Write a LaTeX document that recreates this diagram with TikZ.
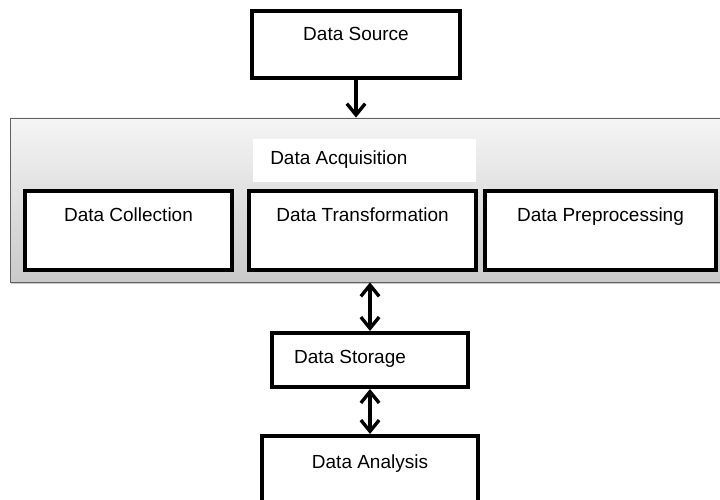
\documentclass[tikz,border=0pt]{standalone}
\usepackage{fontspec}
\setmainfont{Liberation Sans}
\usetikzlibrary{arrows.meta}
\usetikzlibrary{positioning}
\usetikzlibrary{shadows}
\tikzset{>={Straight Barb[length=8pt,width=13pt,line width=2.4pt]}}
\def\px{0.025cm}
\tikzset{
    blk/.style={draw=black, line width=4*\px, fill=white, rectangle, inner sep=0pt},
    lbl/.style={anchor=north, inner sep=0pt, font=\fontsize{13.5}{16}\selectfont},
    flow/.style={line width=3.5*\px}
}

\begin{document}
\begin{tikzpicture}[x=\px, y=\px]
            \clip (0,0) rectangle (720,499);
            \useasboundingbox (0,0) rectangle (720,499);
            % outer acquisition panel
            \node [rectangle, draw=gray!75!black, line width=0.6pt, top color=gray!8, bottom color=gray!42,
                   drop shadow={shadow xshift=1pt, shadow yshift=-1.5pt, opacity=0.4},
                   minimum width=720*\px, minimum height=164*\px] (acq) at (370,299) {};
            \node [rectangle, fill=white, minimum width=223*\px, minimum height=43*\px] (acqtitle) at (364.5,338.5) {};
            \node [anchor=west, inner sep=0pt, font=\fontsize{13.5}{16}\selectfont] (acqtext) at (270,339) {Data Acquisition};
            % boxes
            \node [blk, minimum width=208*\px, minimum height=67*\px,
                   label={[lbl, yshift=-18*\px]north:Data Source}] (src) at (356,454.5) {};
            \node [blk, minimum width=207*\px, minimum height=79*\px,
                   label={[lbl, yshift=-18*\px]north:Data Collection}] (col) at (128.5,268.5) {};
            \node [blk, minimum width=227*\px, minimum height=79*\px,
                   label={[lbl, yshift=-18*\px]north:Data Transformation}] (trans) at (362.5,268.5) {};
            \node [blk, minimum width=231*\px, minimum height=79*\px,
                   label={[lbl, yshift=-18*\px]north:Data Preprocessing}] (pre) at (600.5,268.5) {};
            \node [blk, minimum width=196*\px, minimum height=54*\px,
                   label={[lbl, yshift=-19*\px, xshift=-20*\px]north:Data Storage}] (store) at (370,139) {};
            \node [blk, minimum width=216*\px, minimum height=74*\px,
                   label={[lbl, yshift=-20*\px]north:Data Analysis}] (ana) at (370,26) {};
            % connectors
            \draw [flow, ->] (src.south) -- (src.south |- acq.north);
            \draw [flow, <->] (acq.south) -- (store.north);
            \draw [flow, <->] (store.south) -- (ana.north);
        \end{tikzpicture}
\end{document}
